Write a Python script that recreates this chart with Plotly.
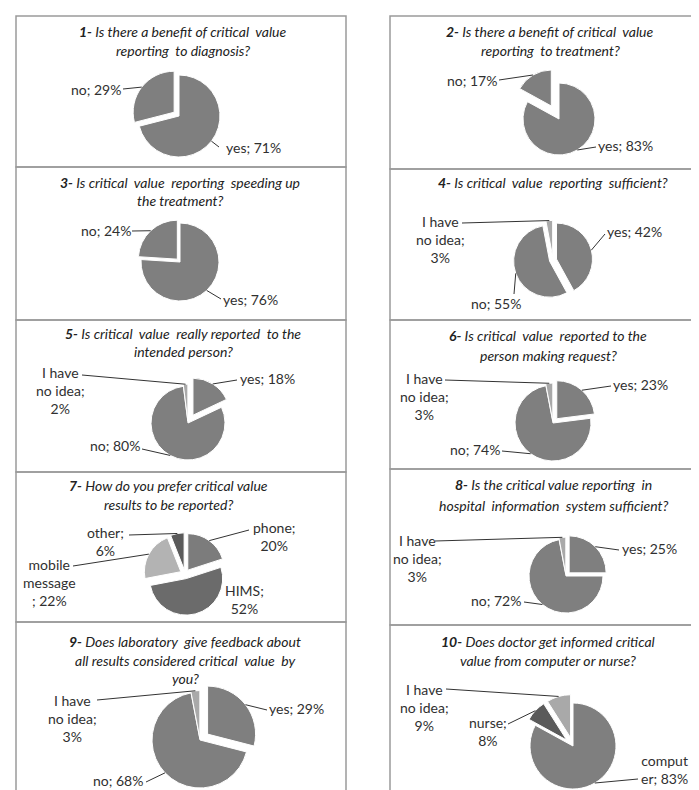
import math
import plotly.graph_objects as go

W, H = 699, 790

# ---------------- data ----------------
q1_labels = ["yes", "no"]
q1_values = [71, 29]
q2_labels = ["yes", "no"]
q2_values = [83, 17]
q3_labels = ["yes", "no"]
q3_values = [76, 24]
q4_labels = ["yes", "no", "I have no idea"]
q4_values = [42, 55, 3]
q5_labels = ["yes", "no", "I have no idea"]
q5_values = [18, 80, 2]
q6_labels = ["yes", "no", "I have no idea"]
q6_values = [23, 74, 3]
q7_labels = ["phone", "HIMS", "mobile message", "other"]
q7_values = [20, 52, 22, 6]
q8_labels = ["yes", "no", "I have no idea"]
q8_values = [25, 72, 3]
q9_labels = ["yes", "no", "I have no idea"]
q9_values = [29, 68, 3]
q10_labels = ["computer", "nurse", "I have no idea"]
q10_values = [83, 8, 9]

q_titles = [
    ["1- Is there a benefit of critical  value", "reporting  to diagnosis?"],
    ["2- Is there a benefit of critical  value", "reporting  to treatment?"],
    ["3- Is critical  value  reporting  speeding up", "the treatment?"],
    ["4- Is critical  value  reporting  sufficient?"],
    ["5- Is critical  value  really reported  to the", "intended person?"],
    ["6- Is critical  value  reported to the", "person making request?"],
    ["7- How do you prefer critical value", "results to be reported?"],
    ["8- Is the critical value reporting  in", "hospital  information  system sufficient?"],
    ["9- Does laboratory  give feedback about", "all results considered critical  value  by", "you?"],
    ["10- Does doctor get informed critical", "value from computer or nurse?"],
]

all_labels = [q1_labels, q2_labels, q3_labels, q4_labels, q5_labels,
              q6_labels, q7_labels, q8_labels, q9_labels, q10_labels]
all_values = [q1_values, q2_values, q3_values, q4_values, q5_values,
              q6_values, q7_values, q8_values, q9_values, q10_values]

# ---------------- styling / layout ----------------
G = "#7f7f7f"
L = "#a9a9a9"
D = "#5a5a5a"
FONT = "Lato, 'Open Sans', sans-serif"
TXT = "#303030"
TITLE_SIZE = 14
LABEL_SIZE = 14

label_fmt = {
    "I have no idea": "I have<br>no idea;<br>{v}%",
    "mobile message": "mobile<br>message<br>; {v}%",
    "computer": "comput<br>er; {v}%",
    "phone": "{l};<br>{v}%",
    "HIMS": "{l};<br>{v}%",
    "other": "{l};<br>{v}%",
    "nurse": "{l};<br>{v}%",
}

# per panel: pie centre/radius (px), pulls, colours, title x / line ys, label text centres + leader starts
panels = [
    dict(cx=171, cy=108, r=41, pull=[0, 0.15], col=[G, G], tx=175, ty=[23, 43],
         lab=[(245, 139, (211, 139)), (88, 81, (115, 81))]),
    dict(cx=551, cy=111, r=36, pull=[0, 0.42], col=[G, G], tx=542, ty=[23, 43],
         lab=[(617, 137, (588, 139)), (464, 72, (491, 72))]),
    dict(cx=172, cy=254, r=39, pull=[0, 0.1], col=[G, G], tx=172, ty=[174, 193],
         lab=[(242, 291, (213, 291)), (98, 223, (124, 223))]),
    dict(cx=545, cy=252, r=36, pull=[0.1, 0.1, 0.1], col=[G, G, L], tx=545, ty=[175],
         lab=[(626, 224, (597, 226)), (488, 295, (506, 286)), (432, 231, (454, 215))]),
    dict(cx=180, cy=415, r=37, pull=[0.25, 0, 0.05], col=[G, G, L], tx=175, ty=[325, 343],
         lab=[(259, 370, (229, 372)), (107, 438, (134, 441)), (52, 383, (74, 367))]),
    dict(cx=545, cy=415, r=38, pull=[0.15, 0, 0.05], col=[G, G, L], tx=540, ty=[327, 347],
         lab=[(632, 376, (603, 378)), (467, 441, (494, 443)), (417, 389, (437, 372))]),
    dict(cx=177, cy=566, r=36.5, pull=[0.13, 0.13, 0.13, 0.13], col=["#7c7c7c", "#6b6b6b", "#b3b3b3", "#5a5a5a"],
         tx=160, ty=[477, 496],
         lab=[(266, 528, (241, 522)), (236, 591, None), (41, 574, (65, 558)), (97, 533, (121, 527))]),
    dict(cx=558, cy=568, r=37, pull=[0.12, 0, 0.05], col=[G, G, L], tx=545, ty=[476, 497],
         lab=[(641, 540, (611, 542)), (488, 592, (516, 594)), (409, 550, (427, 533))]),
    dict(cx=192, cy=732, r=48, pull=[0.2, 0, 0.03], col=[G, G, L], tx=177, ty=[633, 652, 670],
         lab=[(288, 700, (259, 702)), (110, 772, (138, 774)), (64, 710, (89, 692))]),
    dict(cx=565, cy=738, r=43, pull=[0, 0.2, 0.2], col=[G, D, L], tx=540, ty=[633, 652],
         lab=[(656, 761, (630, 771)), (480, 723, (500, 716)), (417, 699, (438, 681))]),
]

left_rows = [8, 159, 312, 464, 614, 800]
right_rows = [8, 161, 312, 461, 617, 800]


def px(x):
    return x / W


def py(y):
    return 1 - y / H


fig = go.Figure()
shapes = []
annotations = []

# boxes
for i in range(5):
    shapes.append(dict(type="rect", xref="paper", yref="paper", x0=px(8), x1=px(338),
                       y0=py(left_rows[i + 1]), y1=py(left_rows[i]),
                       line=dict(color="#9a9a9a", width=1.5), layer="below"))
    shapes.append(dict(type="rect", xref="paper", yref="paper", x0=px(382), x1=px(706),
                       y0=py(right_rows[i + 1]), y1=py(right_rows[i]),
                       line=dict(color="#9a9a9a", width=1.5), layer="below"))

for k, (labels, values, st, title) in enumerate(zip(all_labels, all_values, panels, q_titles)):
    cx, cy, r = st["cx"], st["cy"], st["r"]
    mp = max(st["pull"])
    half = r * (1 + mp)
    dx = [max(0, px(cx - half)), min(1, px(cx + half))]
    dy = [max(0, py(cy + half)), min(1, py(cy - half))]
    fig.add_trace(go.Pie(
        labels=labels, values=values, sort=False, direction="clockwise", rotation=0,
        pull=st["pull"], textinfo="none", hoverinfo="label+percent",
        marker=dict(colors=st["col"], line=dict(color="white", width=1)),
        domain=dict(x=dx, y=dy), showlegend=False,
    ))

    # title lines
    for j, (line, yy) in enumerate(zip(title, st["ty"])):
        if j == 0:
            num, rest = line.split("- ", 1)
            txt = "<i><b>" + num + "-</b> " + rest + "</i>"
        else:
            txt = "<i>" + line + "</i>"
        annotations.append(dict(x=px(st["tx"]), y=py(yy), xref="paper", yref="paper",
                                text=txt, showarrow=False, xanchor="center", yanchor="middle",
                                font=dict(family=FONT, size=TITLE_SIZE, color="#222222")))

    # labels + leader lines
    tot = sum(values)
    acc = 0
    for lab, v, p, (tx, ty, ls) in zip(labels, values, st["pull"], st["lab"]):
        a0 = acc / tot * 2 * math.pi
        acc += v
        a1 = acc / tot * 2 * math.pi
        m = (a0 + a1) / 2
        rr = r * (1 + p)
        ax_, ay_ = cx + rr * math.sin(m), cy - rr * math.cos(m)
        fmt = label_fmt.get(lab, "{l}; {v}%")
        text = fmt.format(l=lab, v=v)
        annotations.append(dict(x=px(tx), y=py(ty), xref="paper", yref="paper", text=text,
                                showarrow=False, xanchor="center", yanchor="middle", align="center",
                                font=dict(family=FONT, size=LABEL_SIZE, color=TXT)))
        if ls is not None:
            shapes.append(dict(type="line", xref="paper", yref="paper",
                               x0=px(ls[0]), y0=py(ls[1]), x1=px(ax_), y1=py(ay_),
                               line=dict(color="#333333", width=1)))

fig.update_layout(
    width=W, height=H, margin=dict(l=0, r=0, t=0, b=0),
    paper_bgcolor="white", plot_bgcolor="white",
    shapes=shapes, annotations=annotations,
    font=dict(family=FONT),
)

fig.write_html("out.html")
